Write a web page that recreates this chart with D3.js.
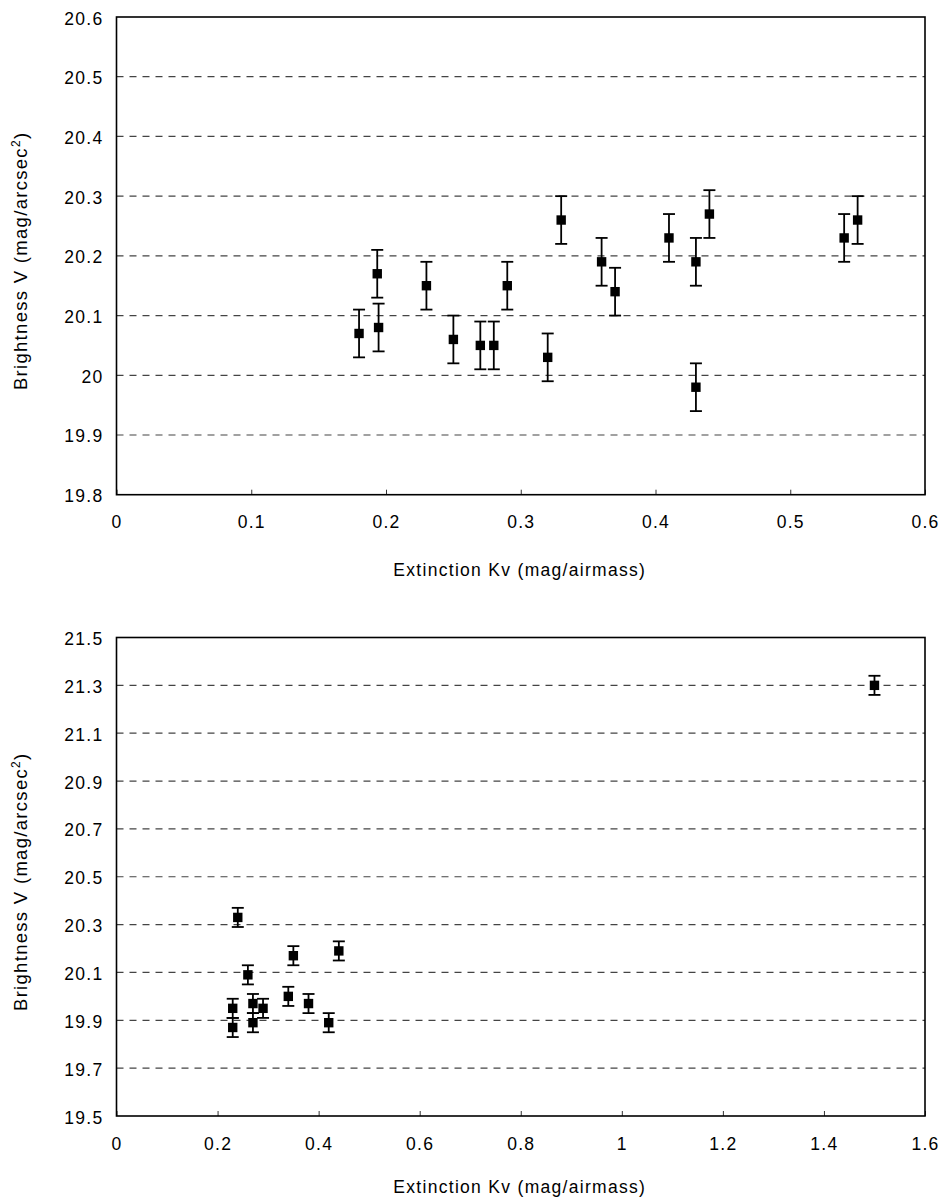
<!DOCTYPE html>
<html>
<head>
<meta charset="utf-8">
<script src="https://cdn.jsdelivr.net/npm/d3@7"></script>
<style>
  html, body { margin: 0; padding: 0; background: #fff; }
  svg { display: block; }
  text { font-family: "Liberation Sans", Arial, Helvetica, sans-serif; fill: #000; letter-spacing: 1.3px; }
</style>
</head>
<body>
<svg id="chart" width="943" height="1200"></svg>
<script>
// Top panel: extinction vs brightness (0 - 0.6 range)
const topKv = [0.18, 0.1935, 0.1945, 0.23, 0.25, 0.27, 0.28, 0.29, 0.32, 0.33,
               0.36, 0.37, 0.41, 0.43, 0.43, 0.44, 0.54, 0.55];
const topV  = [20.07, 20.17, 20.08, 20.15, 20.06, 20.05, 20.05, 20.15, 20.03, 20.26,
               20.19, 20.14, 20.23, 20.19, 19.98, 20.27, 20.23, 20.26];
const topErr = [0.04, 0.04, 0.04, 0.04, 0.04, 0.04, 0.04, 0.04, 0.04, 0.04,
                0.04, 0.04, 0.04, 0.04, 0.04, 0.04, 0.04, 0.04];
const topXTicks = [0, 0.1, 0.2, 0.3, 0.4, 0.5, 0.6];
const topYTicks = [19.8, 19.9, 20, 20.1, 20.2, 20.3, 20.4, 20.5, 20.6];

// Bottom panel: wider extinction range (0 - 1.6)
const botKv = [0.24, 0.26, 0.35, 0.44, 0.23, 0.23, 0.27, 0.27, 0.29, 0.34, 0.38, 0.42, 1.5];
const botV  = [20.33, 20.09, 20.17, 20.19, 19.95, 19.87, 19.97, 19.89, 19.95, 20.00, 19.97, 19.89, 21.30];
const botErr = [0.04, 0.04, 0.04, 0.04, 0.04, 0.04, 0.04, 0.04, 0.04, 0.04, 0.04, 0.04, 0.04];
const botXTicks = [0, 0.2, 0.4, 0.6, 0.8, 1, 1.2, 1.4, 1.6];
const botYTicks = [19.5, 19.7, 19.9, 20.1, 20.3, 20.5, 20.7, 20.9, 21.1, 21.3, 21.5];

const xTitle = "Extinction Kv (mag/airmass)";

const svg = d3.select("#chart");

function drawPanel(opts) {
  const { left, right, top, bottom, kv, v, err, xTicks, yTicks, xDomain, yDomain, titleGap } = opts;

  const x = d3.scaleLinear().domain(xDomain).range([left, right]);
  const y = d3.scaleLinear().domain(yDomain).range([bottom, top]);

  const g = svg.append("g");

  // dashed gridlines (skip the frame edges)
  g.append("g")
    .selectAll("line")
    .data(yTicks.filter(t => t !== yDomain[0] && t !== yDomain[1]))
    .join("line")
    .attr("x1", left)
    .attr("x2", right)
    .attr("y1", d => y(d))
    .attr("y2", d => y(d))
    .attr("stroke", "#444")
    .attr("stroke-width", 1.2)
    .attr("stroke-dasharray", "7,6");

  // x axis: ticks pointing into the plot
  const xAxis = d3.axisBottom(x)
    .tickValues(xTicks)
    .tickSize(-5)
    .tickPadding(0)
    .tickFormat(d3.format("~g"));
  const xg = g.append("g")
    .attr("transform", `translate(0,${bottom})`)
    .call(xAxis);
  xg.select(".domain").remove();
  xg.selectAll(".tick line").attr("stroke", "#333").attr("stroke-width", 1);
  xg.selectAll(".tick text")
    .attr("y", 33.6)
    .attr("dy", null)
    .attr("font-size", 17.5)
    .attr("fill", "#000")
    .attr("font-family", "Liberation Sans, Arial, sans-serif");

  // y axis labels only
  const yAxis = d3.axisLeft(y)
    .tickValues(yTicks)
    .tickSize(0)
    .tickPadding(13)
    .tickFormat(d3.format("~g"));
  const yg = g.append("g")
    .attr("transform", `translate(${left},0)`)
    .call(yAxis);
  yg.select(".domain").remove();
  yg.selectAll(".tick text")
    .attr("dy", "0.4em")
    .attr("font-size", 17.5)
    .attr("fill", "#000")
    .attr("font-family", "Liberation Sans, Arial, sans-serif");

  // frame
  g.append("rect")
    .attr("x", left)
    .attr("y", top)
    .attr("width", right - left)
    .attr("height", bottom - top)
    .attr("fill", "none")
    .attr("stroke", "#000")
    .attr("stroke-width", 1.6);

  const pts = kv.map((k, i) => ({ k, v: v[i], e: err[i] }));

  // error bars
  const eb = g.append("g").attr("stroke", "#000").attr("stroke-width", 1.8);
  eb.selectAll("line.stem")
    .data(pts)
    .join("line")
    .attr("class", "stem")
    .attr("x1", d => x(d.k))
    .attr("x2", d => x(d.k))
    .attr("y1", d => y(d.v + d.e))
    .attr("y2", d => y(d.v - d.e));
  eb.selectAll("line.capTop")
    .data(pts)
    .join("line")
    .attr("class", "capTop")
    .attr("x1", d => x(d.k) - 6)
    .attr("x2", d => x(d.k) + 6)
    .attr("y1", d => y(d.v + d.e))
    .attr("y2", d => y(d.v + d.e));
  eb.selectAll("line.capBot")
    .data(pts)
    .join("line")
    .attr("class", "capBot")
    .attr("x1", d => x(d.k) - 6)
    .attr("x2", d => x(d.k) + 6)
    .attr("y1", d => y(d.v - d.e))
    .attr("y2", d => y(d.v - d.e));

  // square markers
  const s = 9.4;
  g.append("g")
    .selectAll("rect")
    .data(pts)
    .join("rect")
    .attr("x", d => x(d.k) - s / 2)
    .attr("y", d => y(d.v) - s / 2)
    .attr("width", s)
    .attr("height", s)
    .attr("fill", "#000");

  // x title
  g.append("text")
    .attr("x", (left + right) / 2 - 1)
    .attr("y", bottom + titleGap)
    .attr("text-anchor", "middle")
    .attr("font-size", 17.5)
    .text(xTitle);

  // y title with superscript
  const yt = g.append("text")
    .attr("transform", `translate(27,${(top + bottom) / 2 + 5}) rotate(-90)`)
    .attr("text-anchor", "middle")
    .attr("font-size", 18.5);
  yt.append("tspan").text("Brightness V (mag/arcsec");
  yt.append("tspan").attr("font-size", 12).attr("dy", -7).text("2");
  yt.append("tspan").attr("dy", 7).text(")");
}

drawPanel({
  left: 116.5, right: 925, top: 17, bottom: 494.7,
  kv: topKv, v: topV, err: topErr,
  xTicks: topXTicks, yTicks: topYTicks,
  xDomain: [0, 0.6], yDomain: [19.8, 20.6], titleGap: 81.3
});

drawPanel({
  left: 116.5, right: 925, top: 637.5, bottom: 1116,
  kv: botKv, v: botV, err: botErr,
  xTicks: botXTicks, yTicks: botYTicks,
  xDomain: [0, 1.6], yDomain: [19.5, 21.5], titleGap: 77
});
</script>
</body>
</html>
